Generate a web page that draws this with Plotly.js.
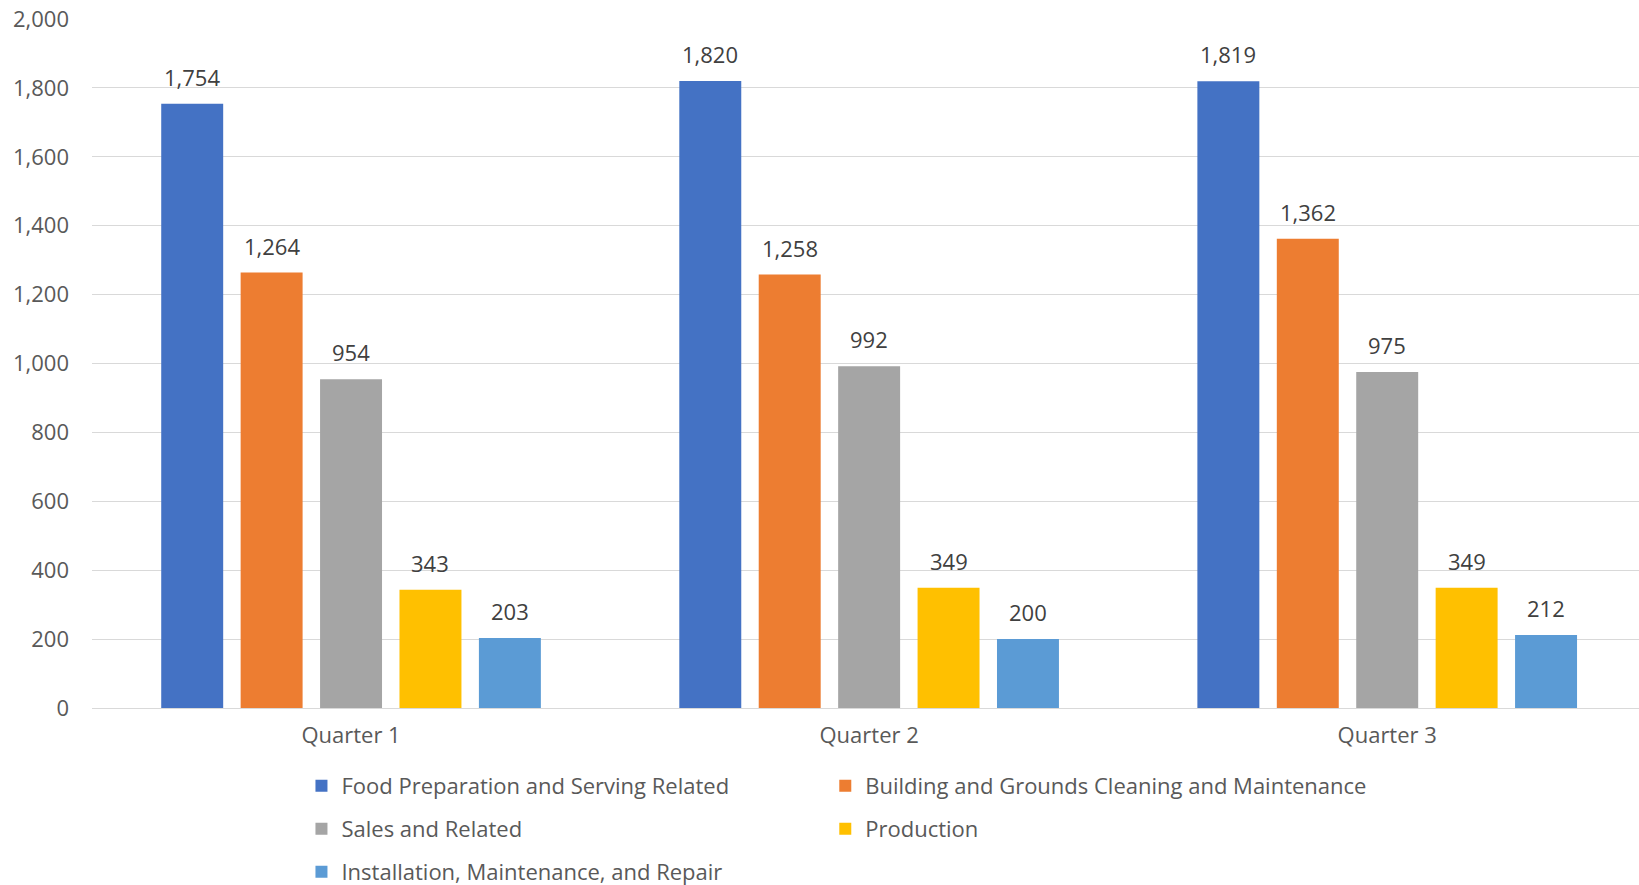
<!DOCTYPE html>
<html>
<head>
<meta charset="utf-8">
<script src="https://cdn.plot.ly/plotly-3.0.1.min.js"></script>
<style>html,body{margin:0;padding:0;background:#fff;}#chart{width:1639px;height:885px;}</style>
</head>
<body>
<div id="chart"></div>
<script>
const categories = ["Quarter 1", "Quarter 2", "Quarter 3"];
const seriesNames = [
  "Food Preparation and Serving Related",
  "Building and Grounds Cleaning and Maintenance",
  "Sales and Related",
  "Production",
  "Installation, Maintenance, and Repair"
];
const foodPrep = [1754, 1820, 1819];
const buildingGrounds = [1264, 1258, 1362];
const salesRelated = [954, 992, 975];
const production = [343, 349, 349];
const installation = [203, 200, 212];
const yTickVals = [0, 200, 400, 600, 800, 1000, 1200, 1400, 1600, 1800, 2000];

const seriesValues = [foodPrep, buildingGrounds, salesRelated, production, installation];
const colors = ["#4472C4", "#ED7D31", "#A5A5A5", "#FFC000", "#5B9BD5"];
const legendIds = ["legend", "legend2", "legend3", "legend4", "legend5"];

const barWidth = 0.1196;
const pitch = 0.1533;
const FONT = "Open Sans, Noto Sans, sans-serif";
const FS = 22;

const traces = seriesValues.map((vals, i) => {
  const center = (i - 2) * pitch;
  return {
    type: "bar",
    name: seriesNames[i],
    x: categories,
    y: vals,
    width: barWidth,
    offset: center - barWidth / 2,
    marker: {color: colors[i]},
    legend: legendIds[i],
    hoverinfo: "x+y+name"
  };
});

const annotations = [];
seriesValues.forEach((vals, i) => {
  const center = (i - 2) * pitch;
  vals.forEach((v, j) => {
    annotations.push({
      x: j + center, y: v, xref: "x", yref: "y",
      text: v.toLocaleString("en-US"),
      showarrow: false, yanchor: "bottom", yshift: 10,
      font: {family: FONT, size: FS, color: "#404040"}
    });
  });
});

const legendCommon = {
  orientation: "v", xanchor: "left", yanchor: "middle",
  xref: "paper", yref: "container",
  bgcolor: "rgba(0,0,0,0)",
  font: {family: FONT, size: FS, color: "#595959"}
};
const col1 = 0.1354, col2 = 0.474;
const row1 = 0.1119, row2 = 0.0633, row3 = 0.0147;

const layout = {
  width: 1639, height: 885,
  margin: {l: 92, r: 0, t: 19, b: 177, autoexpand: false},
  paper_bgcolor: "#ffffff", plot_bgcolor: "#ffffff",
  barmode: "group",
  font: {family: FONT, color: "#595959"},
  xaxis: {
    type: "category", range: [-0.5, 2.486],
    showgrid: false, showline: false, zeroline: false, ticks: "",
    ticklabelstandoff: 12, automargin: false,
    tickfont: {family: FONT, size: FS, color: "#595959"}
  },
  yaxis: {
    range: [0, 2000], tickvals: yTickVals, tickformat: ",",
    showgrid: true, gridcolor: "#D9D9D9", gridwidth: 1,
    zeroline: true, zerolinecolor: "#D9D9D9", zerolinewidth: 1,
    showline: false, ticks: "", ticklabelstandoff: 22, automargin: false,
    tickfont: {family: FONT, size: FS, color: "#595959"}
  },
  legend: Object.assign({}, legendCommon, {x: col1, y: row1}),
  legend2: Object.assign({}, legendCommon, {x: col2, y: row1}),
  legend3: Object.assign({}, legendCommon, {x: col1, y: row2}),
  legend4: Object.assign({}, legendCommon, {x: col2, y: row2}),
  legend5: Object.assign({}, legendCommon, {x: col1, y: row3}),
  annotations: annotations,
  showlegend: true
};

Plotly.newPlot("chart", traces, layout, {displayModeBar: false, responsive: false});
</script>
</body>
</html>
